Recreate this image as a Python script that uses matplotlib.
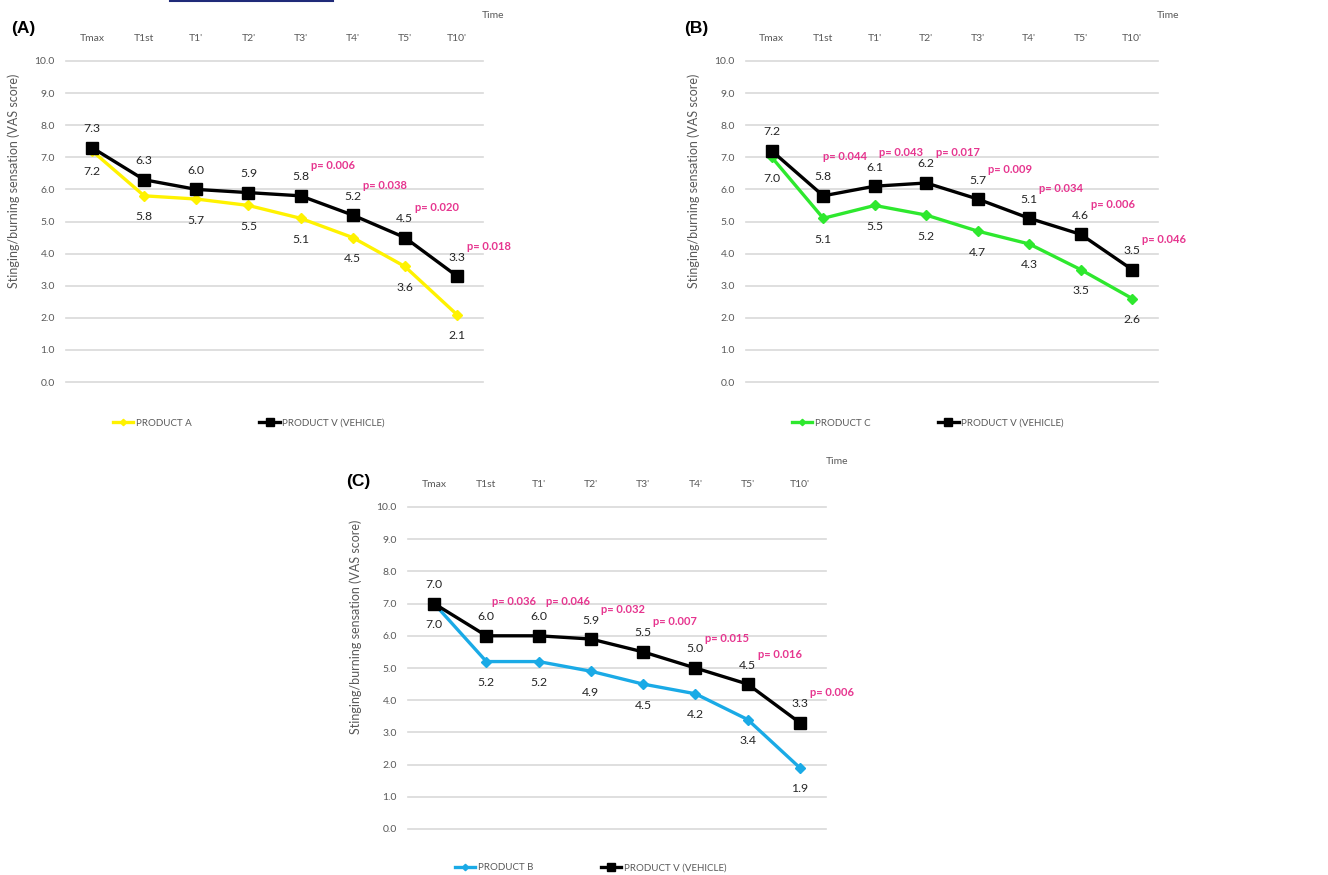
import matplotlib
matplotlib.use("Agg")
import matplotlib.pyplot as plt
from matplotlib.lines import Line2D

# ---- data -------------------------------------------------------------
time_points = ["Tmax", "T1st", "T1'", "T2'", "T3'", "T4'", "T5'", "T10'"]

product_a = [7.2, 5.8, 5.7, 5.5, 5.1, 4.5, 3.6, 2.1]
vehicle_a = [7.3, 6.3, 6.0, 5.9, 5.8, 5.2, 4.5, 3.3]
pvals_a = [None, None, None, None, "0.006", "0.038", "0.020", "0.018"]

product_c = [7.0, 5.1, 5.5, 5.2, 4.7, 4.3, 3.5, 2.6]
vehicle_b = [7.2, 5.8, 6.1, 6.2, 5.7, 5.1, 4.6, 3.5]
pvals_b = [None, "0.044", "0.043", "0.017", "0.009", "0.034", "0.006", "0.046"]

product_b = [7.0, 5.2, 5.2, 4.9, 4.5, 4.2, 3.4, 1.9]
vehicle_c = [7.0, 6.0, 6.0, 5.9, 5.5, 5.0, 4.5, 3.3]
pvals_c = [None, "0.036", "0.046", "0.032", "0.007", "0.015", "0.016", "0.006"]

y_ticks = [0, 1, 2, 3, 4, 5, 6, 7, 8, 9, 10]

# ---- style ------------------------------------------------------------
W, H = 1328, 875
FONT = ["Lato", "DejaVu Sans"]
GRAY = "#595959"
LABEL = "#262626"
PINK = "#E6358F"
GRID = "#D9D9D9"

fig = plt.figure(figsize=(W / 100, H / 100), dpi=100)
fig.patch.set_facecolor("white")


def px_axes(left, top, right, bottom):
    return fig.add_axes([left / W, 1 - bottom / H, (right - left) / W, (bottom - top) / H])


def panel(box, letter, letter_xy, time_xy, ylabel_xy, prod, veh, pvals,
          prod_name, prod_color, legend_xy, pshift=None):
    ax = px_axes(*box)
    x = list(range(len(time_points)))
    ax.set_xlim(-0.5, len(time_points) - 0.5)
    ax.set_ylim(0, 10)
    for s in ax.spines.values():
        s.set_visible(False)
    ax.set_yticks(y_ticks)
    ax.set_yticklabels([f"{v:.1f}" for v in y_ticks], fontsize=7.5,
                       color=GRAY, family=FONT)
    ax.yaxis.grid(True, color=GRID, lw=1.2)
    for gl in ax.get_ygridlines():
        gl.set_clip_on(False)
    ax.set_axisbelow(True)
    ax.set_xticks(x)
    ax.set_xticklabels(time_points, fontsize=7.5, color=GRAY, family=FONT)
    ax.xaxis.tick_top()
    ax.tick_params(axis="both", length=0)
    ax.tick_params(axis="x", pad=13)
    ax.tick_params(axis="y", pad=8)

    ax.plot(x, prod, color=prod_color, lw=2.4, marker="D", ms=5,
            label=prod_name, zorder=3)
    ax.plot(x, veh, color="black", lw=2.4, marker="s", ms=8,
            label="PRODUCT V (VEHICLE)", zorder=4)

    for xi, (pv, vv) in enumerate(zip(prod, veh)):
        ax.annotate(f"{vv:.1f}", (xi, vv), xytext=(0, 19),
                    textcoords="offset pixels", ha="center", va="center",
                    fontsize=8.8, color=LABEL, family=FONT)
        ax.annotate(f"{pv:.1f}", (xi, pv), xytext=(0, -21),
                    textcoords="offset pixels", ha="center", va="center",
                    fontsize=8.8, color=LABEL, family=FONT)

    for xi, (p, vv) in enumerate(zip(pvals, veh)):
        if p is None:
            continue
        dx, dy = 10, 30
        if pshift and xi in pshift:
            dx, dy = pshift[xi]
        ax.annotate(f"p= {p}", (xi, vv), xytext=(dx, dy),
                    textcoords="offset pixels", ha="left", va="center",
                    fontsize=8, color=PINK, fontweight="bold", family=FONT)

    lx, ly = legend_xy
    ax.legend(loc="center left",
              bbox_to_anchor=((lx - box[0]) / (box[2] - box[0]),
                              -(ly - box[3]) / (box[3] - box[1])),
              ncol=2, frameon=False, handlelength=2.1, handletextpad=0.25,
              columnspacing=7.0, markerscale=0.65,
              prop={"family": FONT, "size": 7}, labelcolor=GRAY)

    fig.text(letter_xy[0] / W, 1 - letter_xy[1] / H, letter, fontsize=12.5,
             fontweight="bold", family=["Liberation Sans", "DejaVu Sans"],
             ha="left", va="center")
    fig.text(time_xy[0] / W, 1 - time_xy[1] / H, "Time", fontsize=7.5,
             color=GRAY, family=FONT, ha="center", va="center")
    fig.text(ylabel_xy[0] / W, 1 - ylabel_xy[1] / H,
             "Stinging/burning sensation (VAS score)", rotation=90,
             fontsize=9, color=GRAY, family=FONT, ha="center", va="center")
    return ax


panel((66, 61, 483, 382), "(A)", (11, 29), (493, 16), (14, 181),
      product_a, vehicle_a, pvals_a, "PRODUCT A", "#FFF200", (104, 423))

panel((746, 61, 1158, 382), "(B)", (684, 29), (1168, 16), (694, 181),
      product_c, vehicle_b, pvals_b, "PRODUCT C", "#2EE82E", (783, 423),
      pshift={1: (0, 39), 2: (4, 34)})

panel((408, 507, 826, 829), "(C)", (346, 482), (837, 462), (356, 627),
      product_b, vehicle_c, pvals_c, "PRODUCT B", "#1AAAE6", (446, 868),
      pshift={1: (6, 34), 2: (7, 34)})

# underline fragment along the upper edge
fig.add_artist(Line2D([170 / W, 333 / W], [1 - 1 / H, 1 - 1 / H],
                      color="#1F2A78", lw=1.5, transform=fig.transFigure))

fig.savefig("out.png", dpi=100, facecolor="white")
